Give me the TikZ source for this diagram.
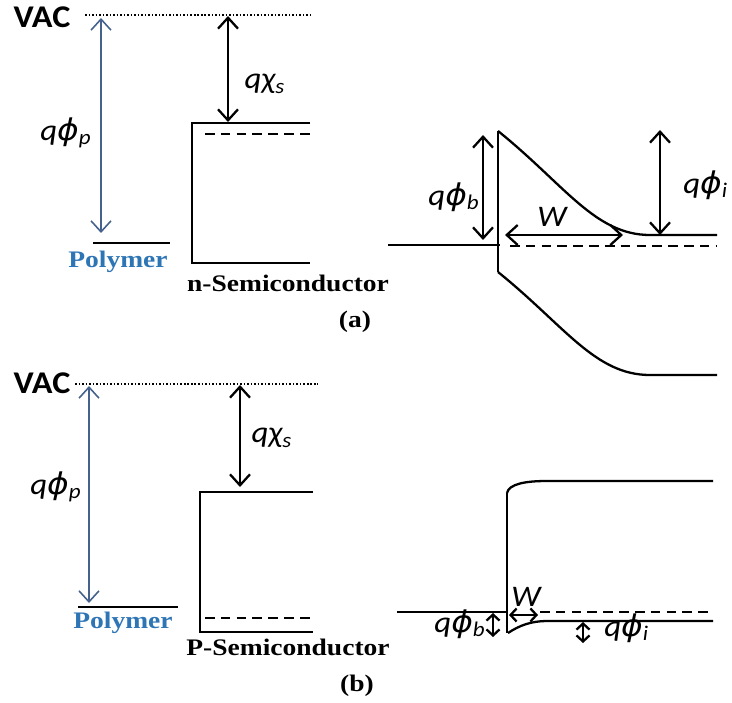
\documentclass[tikz,border=0pt]{standalone}
\usepackage{fontspec}
\setmainfont{Liberation Serif}
\newfontfamily\calfont{Carlito}
\newfontfamily\phifont{DejaVu Sans}
\newcommand{\varphiq}{{\phifont\itshape ϕ}}
\usetikzlibrary{arrows.meta}
\definecolor{polyblue}{RGB}{46,117,182}
\definecolor{arrblue}{RGB}{68,98,140}
\tikzset{
  lbl/.style={font=\calfont\itshape\fontsize{17}{19}\selectfont,xscale=1.1,inner sep=0pt},
  vac/.style={font=\calfont\bfseries\fontsize{18}{20}\selectfont,xscale=1.08,inner sep=0pt},
  mat/.style={font=\bfseries\fontsize{13.5}{15}\selectfont,xscale=1.16,inner sep=0pt},
  dashlvl/.style={dash pattern=on 5.5pt off 3.5pt},
  vacline/.style={line width=0.9pt,dash pattern=on 0.9pt off 1.1pt},
  sarr/.style={<->,>={Straight Barb[length=1.2mm,width=2.6mm]}}
}
\begin{document}
\begin{tikzpicture}[x=0.02cm,y=-0.02cm,line width=1.3pt,>={Straight Barb[length=2.2mm,width=4mm]}]
  \useasboundingbox (0,0) rectangle (732,702);
  % (a) niveles antes del contacto
  \node[vac] (vacA) at (42,17){VAC};
  \draw[vacline] (85,15)--(313,15);
  \draw[<->,arrblue,line width=0.9pt] (101,18)--(101,233);
  \node[lbl] (phipA) at (66,133){q\varphiq\textsubscript{p}};
  \draw[line width=1.4pt] (93,243)--(170,243);
  \node[mat,text=polyblue] (polyA) at (118,262){Polymer};
  \draw[<->] (228,16)--(228,122);
  \node[lbl] (chiA) at (265,84){qχ\textsubscript{s}};
  \draw (310,123)--(192,123)--(192,263)--(310,263);
  \draw[dashlvl] (205,134)--(310,134);
  \node[mat] (semiA) at (288,283){n-Semiconductor};
  \node[mat] (capA) at (355,322){(a)};
  % (a) bandas en contacto
  \draw (388,245)--(500,245);
  \draw (498,131)--(498,272);
  \draw (498,131) .. controls (565,185) and (595,235) .. (650,235)--(717,235);
  \draw[dashlvl] (510,246)--(717,246);
  \draw (498,272) .. controls (565,326) and (595,375) .. (650,375)--(717,375);
  \draw[<->] (483,135)--(483,240);
  \node[lbl,anchor=east] (phibA) at (481,197){q\varphiq\textsubscript{b}};
  \draw[<->] (505,235)--(623,235);
  \node[lbl] (wA) at (552,217){W};
  \draw[<->] (660,130)--(660,235);
  \node[lbl,anchor=west] (phiiA) at (682,185){q\varphiq\textsubscript{i}};
  % (b) niveles antes del contacto
  \node[vac] (vacB) at (42,383){VAC};
  \draw[vacline] (75,384)--(318,384);
  \draw[<->,arrblue,line width=0.9pt] (89,386)--(89,603);
  \node[lbl] (phipB) at (56,487){q\varphiq\textsubscript{p}};
  \draw[line width=1pt] (78,607)--(178,607);
  \node[mat,text=polyblue] (polyB) at (123,623){Polymer};
  \draw[<->] (240,385)--(240,487);
  \node[lbl] (chiB) at (272,438){qχ\textsubscript{s}};
  \draw (313,492)--(200,492)--(200,632)--(313,632);
  \draw[dashlvl] (205,618)--(313,618);
  \node[mat] (semiB) at (288,647){P-Semiconductor};
  \node[mat] (capB) at (357,686){(b)};
  % (b) bandas en contacto
  \draw (397,612)--(507,612);
  \draw (507,493)--(507,633);
  \draw (507,493) .. controls (509,484) and (525,481) .. (547,481)--(713,481);
  \draw (508,633) .. controls (520,625) and (532,621) .. (547,621)--(713,621);
  \draw[dashlvl] (540,612)--(713,612);
  \draw[sarr] (509,615)--(538,615);
  \node[lbl] (wB) at (526,597){W};
  \draw[sarr] (493,613)--(493,637);
  \node[lbl,anchor=east] (phibB) at (487,624){q\varphiq\textsubscript{b}};
  \draw[sarr] (583,622)--(583,643);
  \node[lbl,anchor=west] (phiiB) at (603,628){q\varphiq\textsubscript{i}};
\end{tikzpicture}
\end{document}
